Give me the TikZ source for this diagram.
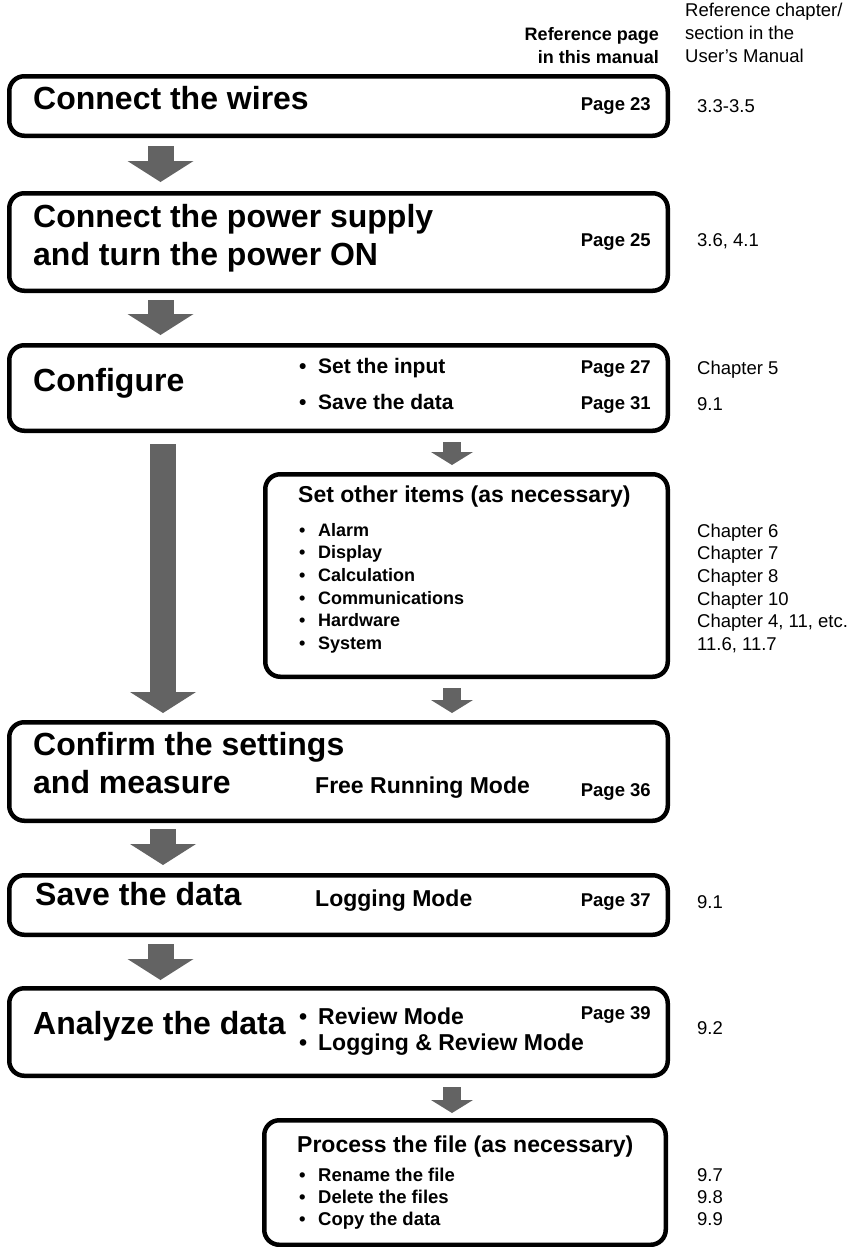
\documentclass[tikz,border=0pt]{standalone}
\usepackage{fontspec}
\setmainfont{Liberation Sans}
\usetikzlibrary{arrows.meta,calc}
\definecolor{arrgray}{RGB}{99,99,99}
\newcommand{\bul}{\makebox[19pt][l]{•}}
\begin{document}
\begin{tikzpicture}[x=1pt,y=-1pt,
  box/.style={draw=black, line width=4.5pt, rounded corners=15pt, anchor=north west, inner sep=0pt},
  txt/.style={anchor=west, inner sep=0pt, text height=.72em, text depth=0pt},
  title/.style={txt, font=\bfseries\fontsize{32}{38}\selectfont},
  page/.style={txt, anchor=east, font=\bfseries\fontsize{18.5}{22}\selectfont},
  ref/.style={txt, font=\fontsize{18.5}{22}\selectfont},
  hdrL/.style={txt, anchor=east, font=\bfseries\fontsize{18}{22}\selectfont},
  itemA/.style={txt, font=\bfseries\fontsize{21}{25}\selectfont},
  itemB/.style={txt, font=\bfseries\fontsize{23}{27}\selectfont},
  small/.style={txt, font=\bfseries\fontsize{18}{22}\selectfont},
  smallB/.style={txt, font=\bfseries\fontsize{18.5}{22}\selectfont},
  sub/.style={txt, font=\bfseries\fontsize{23}{27}\selectfont},
  mode/.style={txt, font=\bfseries\fontsize{23}{27}\selectfont},
  arrbig/.style={draw=arrgray, line width=26pt, -{Triangle[width=66pt,length=21pt,line width=0pt]}},
  arrsmall/.style={draw=arrgray, line width=18pt, -{Triangle[width=42pt,length=13pt,line width=0pt]}}
]
\useasboundingbox (0,0) rectangle (856,1247);

% header
\node[ref] (h1) at (685,13) {Reference chapter/};
\node[ref] (h2) at (685,36) {section in the};
\node[ref] (h3) at (685,59) {User’s Manual};
\node[hdrL] (h4) at (659,37) {Reference page};
\node[hdrL] (h5) at (659,60) {in this manual};

% boxes
\node[box, minimum width=658.5pt, minimum height=59.5pt] (b1) at (7,74) {};
\node[box, minimum width=658.5pt, minimum height=97.5pt] (b2) at (7,191) {};
\node[box, minimum width=658.5pt, minimum height=85.5pt] (b3) at (7,343) {};
\node[box, minimum width=402.5pt, minimum height=202.5pt] (b4) at (263,472) {};
\node[box, minimum width=658.5pt, minimum height=98.5pt] (b5) at (7,720) {};
\node[box, minimum width=658.5pt, minimum height=59.5pt] (b6) at (7,873) {};
\node[box, minimum width=658.5pt, minimum height=87.5pt] (b7) at (7,986) {};
\node[box, minimum width=401.5pt, minimum height=124.5pt] (b8) at (262,1118) {};

% box 1
\node[title] (t1) at (33,106) {Connect the wires};
\node[page] (p1) at (651,107) {Page 23};
\node[ref] (r1) at (697,109) {3.3-3.5};

% box 2
\node[title] (t2a) at (33,224) {Connect the power supply};
\node[title] (t2b) at (33,262) {and turn the power ON};
\node[page] (p2) at (651,243) {Page 25};
\node[ref] (r2) at (697,243) {3.6, 4.1};

% box 3
\node[title] (t3) at (33,388) {Configure};
\node[itemA] (i3a) at (299,370) {\bul Set the input};
\node[itemA] (i3b) at (299,406) {\bul Save the data};
\node[page] (p3a) at (651,370) {Page 27};
\node[page] (p3b) at (651,406) {Page 31};
\node[ref] (r3a) at (697,371) {Chapter 5};
\node[ref] (r3b) at (697,407) {9.1};

% box 4
\node[sub] (t4) at (298,499) {Set other items (as necessary)};
\node[small] (i4a) at (299,533) {\bul Alarm};
\node[small] (i4b) at (299,555) {\bul Display};
\node[small] (i4c) at (299,578) {\bul Calculation};
\node[small] (i4d) at (299,601) {\bul Communications};
\node[small] (i4e) at (299,623) {\bul Hardware};
\node[small] (i4f) at (299,646) {\bul System};
\node[ref] (r4a) at (697,534) {Chapter 6};
\node[ref] (r4b) at (697,556) {Chapter 7};
\node[ref] (r4c) at (697,579) {Chapter 8};
\node[ref] (r4d) at (697,602) {Chapter 10};
\node[ref] (r4e) at (697,624) {Chapter 4, 11, etc.};
\node[ref] (r4f) at (697,647) {11.6, 11.7};

% box 5
\node[title] (t5a) at (33,752) {Confirm the settings};
\node[title] (t5b) at (33,790) {and measure};
\node[mode] (m5) at (315,790) {Free Running Mode};
\node[page] (p5) at (651,793) {Page 36};

% box 6
\node[title] (t6) at (35,902) {Save the data};
\node[mode] (m6) at (315,903) {Logging Mode};
\node[page] (p6) at (651,903) {Page 37};
\node[ref] (r6) at (697,905) {9.1};

% box 7
\node[title] (t7) at (33,1031) {Analyze the data};
\node[itemB] (i7a) at (299,1021) {\bul Review Mode};
\node[itemB] (i7b) at (299,1047) {\bul Logging \& Review Mode};
\node[page] (p7) at (651,1016) {Page 39};
\node[ref] (r7) at (697,1031) {9.2};

% box 8
\node[sub] (t8) at (297,1149) {Process the file (as necessary)};
\node[smallB] (i8a) at (299,1178) {\bul Rename the file};
\node[smallB] (i8b) at (299,1200) {\bul Delete the files};
\node[smallB] (i8c) at (299,1222) {\bul Copy the data};
\node[ref] (r8a) at (697,1178) {9.7};
\node[ref] (r8b) at (697,1200) {9.8};
\node[ref] (r8c) at (697,1222) {9.9};

% arrows
\coordinate (cA) at (160.5,0);
\coordinate (cB) at (452,0);
\coordinate (cC) at (163,0);
\draw[arrbig, shorten <=8pt, shorten >=9pt] (b1.south -| cA) -- (b2.north -| cA);
\draw[arrbig, shorten <=7pt, shorten >=8pt] (b2.south -| cA) -- (b3.north -| cA);
\draw[arrbig, shorten <=11pt, shorten >=7pt] (b3.south -| cC) -- (b5.north -| cC);
\draw[arrsmall, shorten <=9pt, shorten >=7pt] (b3.south -| cB) -- (b4.north -| cB);
\draw[arrsmall, shorten <=9pt, shorten >=7pt] (b4.south -| cB) -- (b5.north -| cB);
\draw[arrbig, shorten <=6pt, shorten >=8pt] (b5.south -| cC) -- (b6.north -| cC);
\draw[arrbig, shorten <=7pt, shorten >=6pt] (b6.south -| cA) -- (b7.north -| cA);
\draw[arrsmall, shorten <=9pt, shorten >=5pt] (b7.south -| cB) -- (b8.north -| cB);
\end{tikzpicture}
\end{document}
